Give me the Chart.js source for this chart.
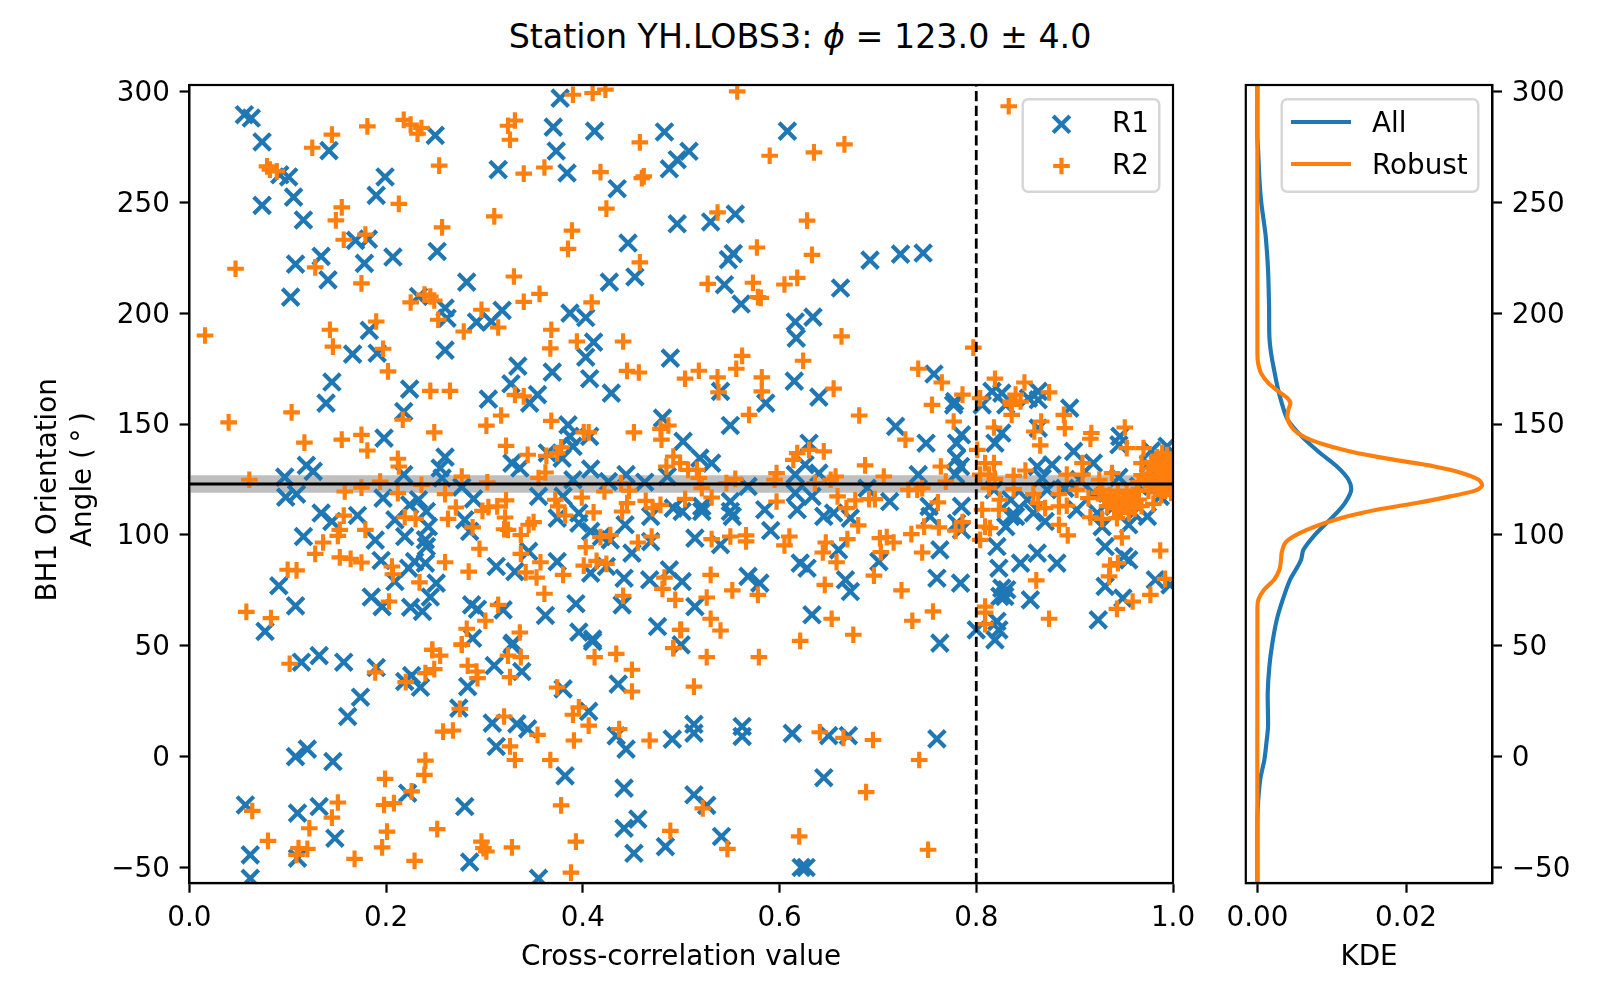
<!DOCTYPE html>
<html>
<head>
<meta charset="utf-8">
<title>Station YH.LOBS3</title>
<script src="https://cdn.jsdelivr.net/npm/chart.js@4/dist/chart.umd.js"></script>
<style>
    body { margin: 0; background: #fff; }
    canvas { position: absolute; left: 0; top: 0; }
    #title {
        position: absolute; left: 0; top: 17px; width: 1600px; text-align: center;
        font: 33.3px "DejaVu Sans"; line-height: 40px; color: #000;
    }
</style>
</head>
<body>
<div id="title">Station YH.LOBS3: <i>ϕ</i> = 123.0 ± 4.0</div>
<canvas id="mainChart" width="1600" height="1000"></canvas>
<canvas id="kdeChart" width="1600" height="1000"></canvas>
<script>
// values: [cross-correlation, angle]
let r1Points = [
[.056,289.6],[.063,288.1],[.074,277.3],[.142,273.4],[.25,280.3],[.092,262.5],[.101,261.5],[.106,252.4],[.074,248.7],[.116,242.1],
[.199,261.5],[.19,253.2],[.169,232.9],[.182,233.5],[.134,225.7],[.108,222.2],[.178,222.5],[.207,225.4],[.252,227.9],[.141,215.1],
[.103,207.3],[.282,214.1],[.233,207.6],[.26,202.4],[.262,197.8],[.292,196],[.318,201.3],[.307,196.3],[.183,192.3],[.166,181.6],
[.191,182],[.26,183.4],[.145,169],[.224,165.8],[.139,159.5],[.304,161.3],[.334,176.2],[.327,168.2],[.354,163.3],[.346,159.5],
[.369,173.5],[.403,180.2],[.407,170.5],[.429,164],[.387,200.1],[.403,198.1],[.411,187],[.427,214.1],[.453,216.4],[.446,231.7],
[.496,240.4],[.489,179.8],[.435,256.2],[.483,281.8],[.488,265.2],[.496,269.3],[.412,282.2],[.37,284],[.373,273.2],[.384,263.3],
[.314,264.8],[.377,297.1],[.508,273.1],[.608,282.2],[.53,241.2],[.555,244.8],[.553,226.9],[.548,224.2],[.544,212.9],[.561,204.2],
[.662,211.4],[.692,224],[.723,226.7],[.746,227.2],[.616,196.1],[.634,198.3],[.617,188.8],[.615,169.4],[.64,162.2],[.54,164.8],
[.586,159.5],[.757,172.6],[.778,160.2],[.806,158.7],[.816,164.8],[.826,164],[.83,158.7],[.853,161.7],[.863,164.8],[.863,161],
[.895,157.2],[.218,155.7],[.198,143.7],[.119,131.4],[.126,128.7],[.097,126.1],[.098,117.1],[.109,118.4],[.134,109.9],[.145,106.1],
[.171,108.8],[.116,99.3],[.189,97.7],[.195,88.5],[.091,77.1],[.108,68],[.077,56.5],[.185,72],[.196,67.7],[.225,67.4],
[.237,65.5],[.245,72],[.251,78.3],[.209,79],[.223,85],[.229,88],[.24,87.3],[.241,94.8],[.24,97.8],[.243,103.8],
[.241,110.6],[.219,99.3],[.209,106.8],[.233,115.9],[.224,113.6],[.197,116.6],[.218,127.2],[.26,135.1],[.255,130.2],[.257,125.7],
[.277,121.6],[.289,116.3],[.28,106.8],[.285,101.6],[.312,85.8],[.331,83.5],[.345,92.6],[.374,88],[.355,117.4],[.38,117.4],
[.374,107.6],[.396,109.9],[.396,105.3],[.408,101.6],[.419,99.3],[.428,97.8],[.443,104.6],[.469,108.4],[.469,97],[.45,91.8],
[.408,82.8],[.424,85.8],[.442,80.5],[.468,79.8],[.488,84.3],[.287,68.5],[.293,66.5],[.319,66.2],[.362,63.7],[.393,69],
[.44,68.5],[.476,58.7],[.396,56.2],[.41,53],[.288,53.4],[.328,50.4],[.328,132.4],[.336,130.2],[.385,149.7],[.387,144.5],
[.39,140],[.379,134.7],[.364,137],[.408,129.7],[.39,124.9],[.426,124.1],[.444,127.2],[.463,123.8],[.481,152.7],[.407,144.5],
[.486,126.4],[.492,112.1],[.114,42.6],[.132,45.6],[.157,42.6],[.19,40.2],[.226,36.6],[.219,33.9],[.235,31.3],[.31,41.1],
[.283,31.6],[.329,51.2],[.338,38.4],[.38,30.6],[.436,32.7],[.41,52],[.5,50.4],[.174,26.8],[.161,18.1],[.274,21.9],
[.308,15.1],[.333,14.8],[.344,12.5],[.406,20.4],[.312,4.6],[.434,9.4],[.444,3.4],[.491,7.9],[.513,14.6],[.513,10.6],
[.562,13.6],[.562,9.1],[.108,0],[.12,3.4],[.146,-2.2],[.382,-8.7],[.222,-16.5],[.442,-14.2],[.513,-17.2],[.526,-22],
[.057,-21.8],[.11,-25.5],[.132,-22.5],[.28,-22.5],[.456,-28.2],[.442,-32.3],[.148,-36.8],[.541,-36],[.484,-40.6],[.452,-43.6],
[.062,-44.3],[.11,-45.8],[.285,-47.6],[.062,-54.9],[.355,-54.9],[.613,10.5],[.645,-9.5],[.627,-50],[.622,-50],[.65,9.5],
[.67,9.5],[.76,8],[.502,142.2],[.519,134.7],[.531,132.4],[.785,145.2],[.78,141.4],[.78,134.7],[.784,130.9],[.779,127.2],
[.55,149.4],[.718,149],[.749,141.4],[.63,141.4],[.819,141.4],[.826,146],[.777,158.7],[.863,148.2],[.899,137.7],[.919,132.4],
[.946,144.5],[.945,140.7],[.994,140],[.862,130.9],[.877,131.7],[.867,125.7],[.741,127.2],[.626,131.7],[.616,127.2],[.64,127.9],
[.568,121.9],[.55,115.1],[.55,110.6],[.521,110.6],[.521,112.9],[.552,108.4],[.501,110.6],[.585,111.4],[.591,102],[.514,98.6],
[.54,95.6],[.618,111.4],[.616,118.9],[.633,117.4],[.645,108.4],[.655,109.9],[.672,107.6],[.689,121.1],[.712,115.1],[.752,112.9],
[.753,108.4],[.785,112.9],[.785,102.3],[.78,105.3],[.821,94.8],[.83,103.8],[.66,93.3],[.701,88],[.621,87.3],[.628,85],
[.667,79.8],[.672,74.5],[.568,81.3],[.58,78.3],[.514,67.7],[.501,79],[.633,64],[.763,93.3],[.76,80.5],[.784,78.3],
[.823,85],[.826,76],[.829,72.3],[.824,72.3],[.831,75.3],[.855,70.7],[.845,87.3],[.862,91.8],[.882,87.3],[.821,61],
[.823,57.2],[.8,57.2],[.819,52.7],[.763,51.2],[.924,61.7],[.949,71.5],[.931,76.8],[.955,88.8],[.95,90.3],[.931,94.8],
[.955,104.6],[.928,103.8],[.974,108.4],[.982,79.8],[.997,77.5],[.835,108.4],[.84,108.4],[.858,109.9],[.87,106.1],[.902,111.4],
[.923,109.9],[.94,112.9],[.957,115.9],[.987,117.4],[.872,120.4],[.852,115.9],[.919,118.9],[.835,115.9],[.818,120.4],[.975,132],
[.985,126],[.965,122],[.945,126],[.905,125],[.89,121],[.995,128],[.978,138],[.96,110]
];
let r2Points = [
[.125,274.7],[.145,280.6],[.181,284.3],[.218,287.3],[.225,285.1],[.236,283.6],[.232,281],[.079,266.3],[.082,264.8],[.089,264],
[.254,266.6],[.324,284.6],[.331,287],[.326,278.3],[.39,298.6],[.41,299.4],[.423,300.9],[.458,277.1],[.34,263],[.361,265.8],
[.418,263.7],[.46,261],[.462,261.8],[.155,247.8],[.149,241.9],[.213,249.4],[.257,238.8],[.31,243.7],[.424,247.2],[.389,237.3],
[.385,229.1],[.458,223],[.157,233.2],[.179,235.5],[.047,220.1],[.128,220.7],[.175,213.5],[.33,216.6],[.356,208.8],[.34,205.2],
[.409,204.9],[.239,208.4],[.225,204.9],[.245,207.6],[.249,205.8],[.297,201.6],[.253,197.1],[.279,191.8],[.314,193.6],[.016,190],
[.143,192.6],[.19,196.3],[.146,185],[.197,184],[.202,173.8],[.245,165],[.265,165],[.368,192.6],[.367,184.2],[.394,187.3],
[.441,187.3],[.445,174],[.457,173.3],[.331,163.2],[.34,162.5],[.557,300.1],[.833,293.4],[.59,271.1],[.635,272.6],[.666,276.2],
[.537,245.5],[.628,241.8],[.577,229.7],[.633,226.4],[.527,213.3],[.573,213.8],[.605,213],[.618,216],[.581,207],[.578,207.3],
[.663,189.6],[.797,184.5],[.562,180.8],[.624,178.6],[.556,175],[.518,174.1],[.504,170.5],[.537,171.1],[.582,171.1],[.538,164.4],
[.582,164.8],[.655,166],[.741,175],[.765,168.8],[.786,163.3],[.804,161.7],[.819,170.5],[.849,168.8],[.874,164.3],[.84,163.3],
[.835,160.2],[.845,160.2],[.755,158.7],[.04,150.8],[.104,155.3],[.117,141.7],[.155,143],[.175,145.2],[.181,138.1],[.217,152],
[.249,146.3],[.302,149.3],[.317,153.9],[.368,151.5],[.322,140.2],[.401,146.3],[.406,146.3],[.452,146.3],[.479,147.9],[.487,149.4],
[.48,143],[.344,136.2],[.363,135.7],[.374,136.9],[.378,139.5],[.212,134.4],[.213,130.9],[.362,128.2],[.355,125.7],[.277,126.3],
[.485,130.9],[.492,135.4],[.061,124.9],[.194,124.1],[.303,123.8],[.175,121.4],[.236,122.6],[.158,119.6],[.212,118.9],[.26,118.4],
[.439,123.4],[.447,120],[.422,119.6],[.399,116.9],[.372,115.9],[.375,112.9],[.382,108.8],[.411,110.2],[.44,110.6],[.445,114.4],
[.464,115.4],[.471,112.1],[.479,113.6],[.322,115.6],[.313,112.9],[.304,112.6],[.298,110.9],[.271,112.4],[.263,107.3],[.219,108],
[.23,107.3],[.157,108.7],[.153,102.3],[.151,99.6],[.179,102.3],[.288,103.4],[.321,107.9],[.32,102.6],[.324,102.3],[.345,104.6],
[.35,105.8],[.337,100],[.136,96.6],[.295,93.8],[.403,94.5],[.456,96.6],[.47,99.3],[.418,99],[.428,100],[.128,91.5],
[.153,89.9],[.164,89.2],[.175,87.6],[.206,85.8],[.207,82.3],[.26,87.7],[.284,83.5],[.337,91.5],[.357,87.7],[.342,83.1],
[.353,80.8],[.38,82],[.401,86.2],[.414,88.3],[.424,87],[.1,84.3],[.109,84],[.234,78.6],[.483,80.8],[.481,75.7],
[.494,70.7],[.441,72.6],[.361,73.5],[.203,70],[.058,65.3],[.083,62.5],[.314,68.5],[.301,61.3],[.282,57.7],[.336,56],
[.499,57.2],[.277,50.7],[.247,48.2],[.492,49],[.569,154.2],[.681,153.9],[.836,158.7],[.836,154.2],[.777,151.2],[.818,148.5],
[.866,151.2],[.859,146.7],[.889,154.2],[.89,148.2],[.917,146],[.916,143.4],[.951,148.5],[.865,140.4],[.728,143],[.645,137.7],
[.63,138.4],[.618,136.9],[.614,133.9],[.687,131.4],[.764,130.9],[.801,138.4],[.809,132.4],[.818,132.4],[.813,127.2],[.804,127.2],
[.819,125.3],[.85,129.1],[.838,126.7],[.908,132.4],[.908,127.2],[.892,127.2],[.938,127.9],[.925,124.9],[.953,139.2],[.97,139.2],
[.968,132.4],[.499,132.4],[.507,129.4],[.516,129.4],[.518,125.7],[.521,121.1],[.531,116.9],[.504,116.3],[.546,123.4],[.555,125.3],
[.597,127.9],[.595,124.9],[.597,115.1],[.636,123.4],[.652,124.9],[.657,126.4],[.706,126.4],[.769,124.1],[.731,120.4],[.74,120.4],
[.745,121.1],[.659,117.4],[.677,115.6],[.668,112.1],[.691,116.2],[.697,116.2],[.761,114.7],[.813,121.1],[.838,120.7],[.858,118.4],
[.884,118.4],[.863,114.4],[.87,112.1],[.884,112.9],[.892,113.2],[.902,120.4],[.914,116.6],[.928,120.4],[.824,115.9],[.806,111.4],
[.823,111.4],[.68,104.3],[.747,103.8],[.762,103.4],[.779,101.9],[.786,105.8],[.809,103.8],[.814,103.1],[.884,104.6],[.916,108],
[.928,107.3],[.943,107.6],[.893,99.8],[.948,98.9],[.531,98.1],[.55,99.3],[.566,99.8],[.566,97.1],[.61,99.3],[.605,95.3],
[.647,96.6],[.644,92.1],[.669,98.1],[.702,98.6],[.709,99],[.716,96.6],[.703,92.3],[.734,100.4],[.745,92.1],[.658,87.7],
[.696,81.7],[.53,82],[.646,77.5],[.552,75],[.724,75],[.578,73],[.526,71.8],[.861,79.5],[.987,93],[.992,80.2],
[.936,86.2],[.944,87.3],[.935,81.3],[.977,73],[.959,70],[.943,66.7],[.874,62.2],[.809,67.7],[.809,65],[.809,59.8],
[.756,65.5],[.735,61.3],[.653,62.2],[.53,62.2],[.54,56.9],[.5,57.2],[.675,55],[.621,52.2],[.804,97.8],[.102,41.9],
[.189,38],[.22,33.6],[.24,37.7],[.249,39.5],[.247,48.2],[.255,45.6],[.277,50.4],[.283,41],[.292,38.4],[.293,35.4],
[.324,45.6],[.337,44.9],[.326,35.9],[.374,31.2],[.412,44.9],[.434,46.4],[.45,39.2],[.45,29.4],[.492,48.9],[.526,44.9],
[.579,44.9],[.513,31.6],[.275,21.6],[.32,18.1],[.396,22.2],[.39,18.9],[.406,14],[.437,12.4],[.258,11.3],[.268,11.8],
[.354,9.8],[.391,7.3],[.468,7.3],[.326,4.6],[.331,-1.5],[.24,-1.8],[.367,-1.5],[.239,-8.2],[.199,-10],[.226,-15.7],
[.151,-20.7],[.198,-21.8],[.208,-21],[.378,-22],[.064,-24.5],[.145,-27.5],[.522,-23.3],[.122,-32.3],[.201,-33.8],[.252,-32.7],
[.08,-38],[.196,-40.9],[.297,-38.3],[.328,-40.9],[.393,-38.3],[.489,-33.5],[.547,-41.6],[.302,-42.8],[.299,-41.3],[.111,-41.3],
[.12,-41.6],[.109,-44.3],[.168,-46.1],[.229,-47],[.388,-52.3],[.641,11],[.695,7.5],[.665,8.5],[.742,-1.5],[.688,-16],
[.751,-42],[.62,-36],[.925,119],[.93,116],[.933,113],[.936,118],[.938,115],[.94,112],[.942,117],[.944,120],[.945,114],
[.947,111],[.95,116],[.952,113],[.953,119],[.955,110],[.957,115],[.959,118],[.961,112],[.963,120],[.965,116],[.968,113],
[.975,120],[.98,114],[.965,124],[.968,127],[.972,125],[.975,130],
[.977,127],[.979,133],[.981,124],[.983,129],[.984,135],[.986,126],[.987,131],[.989,137],[.99,123],[.991,128],[.992,133],
[.993,125],[.994,136],[.995,130],[.996,122],[.997,127],[.998,134],[.999,129],[1,124],[1,132],[.985,121],[.978,122],
[.992,120],[.998,119],[.988,118]
];

// KDE curves: [density, angle]
let allKde = [
[0,303],[0,280],[.00012,272],[.00028,260],[.00052,250],[.00088,241],[.00112,234.7],[.00143,219.7],[.00157,203],[.00161,189.6],[.00184,182],
[.00224,174.6],[.00269,167],[.00327,159.6],[.00408,152],[.00596,144.5],[.00843,137],[.01067,131],[.01224,125],[.0126,120],[.01179,114.5],
[.01067,110],[.00933,105.5],[.00753,99.3],[.00619,93.3],[.00587,88.8],[.00516,84.3],[.00439,79.8],[.00341,70.8],[.0026,61.7],[.00202,51.3],
[.00161,40.7],[.00139,28.7],[.00143,13.6],[.00121,6.2],[.00094,-1.4],[.00045,-9],[.00018,-16.5],[.00004,-24],[0,-31.5],[0,-57]
];
let robustKde = [
[0,303],[0,182],[.00009,177.6],[.00049,173],[.00148,168.5],[.00282,164.8],[.00395,162],[.00444,159.6],[.00417,156.5],[.00403,152.8],
[.00453,149],[.00542,146],[.00708,143],[.00977,140],[.01336,137],[.01829,134],[.02367,131],[.02748,128],[.02972,125],[.03022,122.3],
[.02928,120],[.02591,117.4],[.02143,114.4],[.01605,111.4],[.01202,108.3],[.0091,105.4],[.00664,102.3],[.00484,99.3],[.00372,96.3],[.00327,92],
[.00318,88.8],[.00296,84.3],[.00224,79.8],[.0009,75.3],[.00013,70.8],[0,66.2],[0,-57]
];

let phi = 123.0;
let phiErr = 4.0;
let ccLimit = 0.8;
let angleTicks = [-50, 0, 50, 100, 150, 200, 250, 300];
let ccTicks = [0, 0.2, 0.4, 0.6, 0.8, 1.0];
let kdeTicks = [0, 0.02];

let blue = "#1f77b4";
let orange = "#ff7f0e";
let fontFamily = "'DejaVu Sans'";
let fontPx = 27.8;

Chart.defaults.font.family = fontFamily;
Chart.defaults.font.size = fontPx;
Chart.defaults.color = "#000";
Chart.defaults.animation = false;

function toXY(pairs){
    return pairs.map(p => ({x: p[0], y: p[1]}));
}

function angleLabel(v){
    return String(v).replace("-", "\u2212");
}

// black box round the plot area
let framePlugin = {
    id: "frame",
    afterDatasetsDraw(chart){
        let a = chart.chartArea;
        let c = chart.ctx;
        c.save();
        c.strokeStyle = "#000";
        c.lineWidth = 2.2;
        c.strokeRect(a.left, a.top, a.right - a.left, a.bottom - a.top);
        c.restore();
    }
};

// matplotlib style legend inside the axes, entries are taken from the datasets
let boxLegendPlugin = {
    id: "boxLegend",
    afterDraw(chart, args, o){
        let c = chart.ctx;
        c.save();
        c.fillStyle = "rgba(255,255,255,0.8)";
        c.strokeStyle = "#d6d6d6";
        c.lineWidth = 2.4;
        c.beginPath();
        c.roundRect(o.left, o.top, o.width, o.height, 5.5);
        c.fill();
        c.stroke();
        let rows = chart.data.datasets.filter(d => d.label);
        rows.forEach((d, i) => {
            let y = o.firstRow + i * o.rowGap;
            if (d.showLine) {
                c.strokeStyle = d.borderColor;
                c.lineWidth = d.borderWidth;
                c.beginPath();
                c.moveTo(o.handleLeft, y);
                c.lineTo(o.handleRight, y);
                c.stroke();
            } else {
                c.strokeStyle = d.pointBorderColor;
                c.lineWidth = d.pointBorderWidth;
                Chart.helpers.drawPoint(c, {pointStyle: d.pointStyle, radius: d.pointRadius, borderWidth: d.pointBorderWidth}, (o.handleLeft + o.handleRight) / 2, y);
            }
            c.fillStyle = "#000";
            c.font = fontPx + "px " + fontFamily;
            c.textBaseline = "middle";
            c.fillText(d.label, o.textLeft, 125 + i * 42);
        });
        c.restore();
    }
};

function axisBase(ticks, format, titleText){
    return {
        type: "linear",
        afterBuildTicks: s => { s.ticks = ticks.map(v => ({value: v})); },
        grid: {drawOnChartArea: false, drawTicks: true, tickLength: 9.7, tickWidth: 2.2, tickColor: "#000"},
        border: {display: true, color: "#000", width: 2.2},
        ticks: {autoSkip: false, maxRotation: 0, padding: 9.7, callback: format},
        title: titleText
    };
}

let mainX = axisBase(ccTicks, v => v.toFixed(1), {display: true, text: "Cross-correlation value", padding: {top: 0, bottom: 26}});
mainX.min = 0;
mainX.max = 1;
mainX.afterFit = s => { s.height = 117; };

// the trailing / leading spaces nudge each line along the axis like the original
let mainY = axisBase(angleTicks, angleLabel, {display: true, text: ["BH1 Orientation \u200a", " Angle (\u2009\u00b0\u2009)"], padding: {top: 31.3, bottom: 0}, font: {size: fontPx, lineHeight: 1.26}});
mainY.min = -57;
mainY.max = 303;
mainY.ticks.labelOffset = 2;
mainY.afterFit = s => { s.width = 189.3; };

new Chart(document.getElementById("mainChart"), {
    type: "scatter",
    plugins: [framePlugin, boxLegendPlugin],
    data: {
        datasets: [
            {data: [{x: 0, y: phi + phiErr}, {x: 1, y: phi + phiErr}], showLine: true, pointRadius: 0, borderWidth: 0,
             fill: {value: phi - phiErr}, backgroundColor: "#bfbfbf", order: 5},
            {label: "R1", data: toXY(r1Points), showLine: false, pointStyle: "crossRot", pointRadius: 11.8,
             pointBorderWidth: 4.17, pointBorderColor: blue, pointBackgroundColor: blue, clip: 0, order: 4},
            {label: "R2", data: toXY(r2Points), showLine: false, pointStyle: "cross", pointRadius: 8.33,
             pointBorderWidth: 4.17, pointBorderColor: orange, pointBackgroundColor: orange, clip: 0, order: 3},
            {data: [{x: ccLimit, y: -57}, {x: ccLimit, y: 303}], showLine: true, pointRadius: 0, borderColor: "#000",
             borderWidth: 2.78, borderDash: [10.3, 4.45], order: 2},
            {data: [{x: 0, y: phi}, {x: 1, y: phi}], showLine: true, pointRadius: 0, borderColor: "#000",
             borderWidth: 2.78, order: 1}
        ]
    },
    options: {
        responsive: false,
        devicePixelRatio: 1,
        layout: {padding: {left: 0, top: 85, right: 427, bottom: 0}},
        scales: {x: mainX, y: mainY},
        plugins: {
            legend: {display: false},
            tooltip: {enabled: false},
            boxLegend: {left: 1022.7, top: 99.3, width: 136.6, height: 92.4, firstRow: 124.3, rowGap: 41.7, handleLeft: 1032, handleRight: 1091, textLeft: 1112}
        }
    }
});

let kdeX = axisBase(kdeTicks, v => v.toFixed(2), {display: true, text: "KDE", padding: {top: 0, bottom: 26}});
kdeX.min = -0.00156;
kdeX.max = 0.0316;
kdeX.afterFit = s => { s.height = 117; };

let kdeY = axisBase(angleTicks, angleLabel, {display: false});
kdeY.min = -57;
kdeY.max = 303;
kdeY.position = "right";
kdeY.ticks.labelOffset = 2;
kdeY.afterFit = s => { s.width = 107.7; };

new Chart(document.getElementById("kdeChart"), {
    type: "scatter",
    plugins: [framePlugin, boxLegendPlugin],
    data: {
        datasets: [
            {label: "All", data: toXY(allKde), showLine: true, pointRadius: 0, borderColor: blue, borderWidth: 4.17, tension: 0.3, order: 2},
            {label: "Robust", data: toXY(robustKde), showLine: true, pointRadius: 0, borderColor: orange, borderWidth: 4.17, tension: 0.3, order: 1}
        ]
    },
    options: {
        responsive: false,
        devicePixelRatio: 1,
        layout: {padding: {left: 1245.8, top: 85, right: 0, bottom: 0}},
        scales: {x: kdeX, y: kdeY},
        plugins: {
            legend: {display: false},
            tooltip: {enabled: false},
            boxLegend: {left: 1281.7, top: 99.3, width: 196.6, height: 92.4, firstRow: 122, rowGap: 42, handleLeft: 1291, handleRight: 1351, textLeft: 1372}
        }
    }
});
</script>
</body>
</html>
